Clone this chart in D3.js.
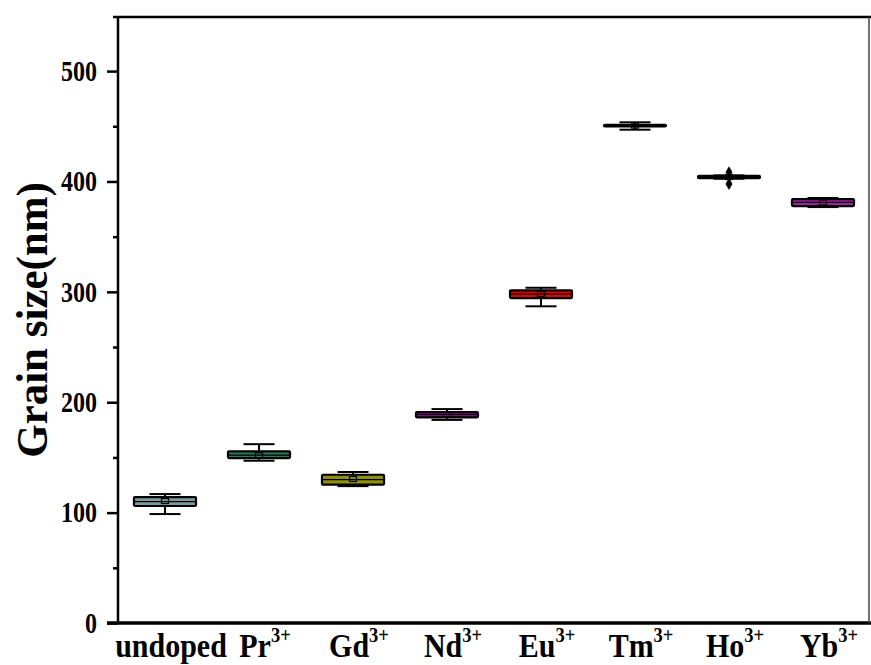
<!DOCTYPE html>
<html>
<head>
<meta charset="utf-8">
<script src="https://cdn.jsdelivr.net/npm/d3@7"></script>
<style>
  html, body { margin: 0; padding: 0; background: #fff; }
  svg { display: block; }
  text { font-family: "Liberation Serif", "Times New Roman", serif; font-weight: bold; }
</style>
</head>
<body>
<svg id="chart" width="871" height="665"></svg>
<script>
// ---- data ----
const categories = ["undoped", "Pr", "Gd", "Nd", "Eu", "Tm", "Ho", "Yb"];
const superscripts = ["", "3+", "3+", "3+", "3+", "3+", "3+", "3+"];
const minValues    = [98.7, 147.0, 124.0, 184.0, 286.9, 446.9, 402.5, 376.8];
const q1Values     = [106.0, 149.4, 125.3, 186.3, 294.4, 449.8, 403.0, 377.7];
const medianValues = [110.0, 152.0, 129.8, 188.9, 298.0, 450.6, 404.0, 381.0];
const q3Values     = [114.1, 155.5, 134.3, 191.0, 301.4, 451.4, 405.0, 384.0];
const maxValues    = [116.8, 162.0, 136.8, 193.8, 303.7, 453.6, 405.5, 385.0];
const meanValues   = [110.5, 152.0, 130.5, 189.0, 298.0, 450.6, 404.0, 381.0];
const outliers     = [[], [], [], [], [], [], [408.3, 397.8], []];
const yTicks       = [0, 100, 200, 300, 400, 500];
const yMinorTicks  = [50, 150, 250, 350, 450];
const yTitle       = "Grain size(nm)";

// ---- styles ----
const fillColors = ["#7b9c9c", "#2c7a5c", "#909010", "#7e1080", "#e00000", "#222222", "#222222", "#a020a0"];

const svg = d3.select("#chart");
const mLeft = 118, mRight = 870, mTop = 17, mBottom = 623;

const y = d3.scaleLinear().domain([0, 549]).range([mBottom, mTop]);
const x = d3.scaleBand().domain(categories).range([mLeft, mRight]).padding(0);
const boxW = x.bandwidth() * 0.66;
const capW = boxW * 0.5;

const data = categories.map((c, i) => ({
  c, i, min: minValues[i], q1: q1Values[i], med: medianValues[i], q3: q3Values[i],
  max: maxValues[i], mean: meanValues[i], out: outliers[i], fill: fillColors[i]
}));

// ---- y axis ----
const yAxis = d3.axisLeft(y).tickValues(yTicks).tickSize(11).tickPadding(10).tickFormat(d3.format("d"));
const gy = svg.append("g").attr("transform", `translate(${mLeft},0)`).call(yAxis);
gy.select(".domain").remove();
gy.selectAll(".tick line").attr("stroke", "#000").attr("stroke-width", 2.5);
gy.selectAll(".tick text").attr("font-size", 24).attr("fill", "#000")
  .attr("transform", "scale(1,1.2)")
  .style("font-family", "'Liberation Serif', serif").style("font-weight", "bold");

const yMinor = d3.axisLeft(y).tickValues(yMinorTicks).tickSize(5).tickFormat("");
const gym = svg.append("g").attr("transform", `translate(${mLeft},0)`).call(yMinor);
gym.select(".domain").remove();
gym.selectAll(".tick line").attr("stroke", "#000").attr("stroke-width", 2.5);

// ---- frame ----
svg.append("line").attr("x1", mLeft).attr("x2", mLeft).attr("y1", mTop - 1).attr("y2", mBottom)
  .attr("stroke", "#000").attr("stroke-width", 2.5);
svg.append("line").attr("x1", mLeft - 11).attr("x2", mRight + 1).attr("y1", mBottom).attr("y2", mBottom)
  .attr("stroke", "#000").attr("stroke-width", 3.5);
svg.append("line").attr("x1", mLeft - 5).attr("x2", mRight + 1).attr("y1", mTop).attr("y2", mTop)
  .attr("stroke", "#000").attr("stroke-width", 2.5);
svg.append("line").attr("x1", mRight - 1).attr("x2", mRight - 1).attr("y1", mTop).attr("y2", mBottom)
  .attr("stroke", "#444").attr("stroke-width", 1.5);

// ---- x axis labels ----
const xAxis = d3.axisBottom(x).tickSize(0).tickPadding(0).tickFormat("");
const gx = svg.append("g").attr("transform", `translate(0,${mBottom})`).call(xAxis);
gx.select(".domain").remove();
gx.selectAll(".tick").each(function(d, i) {
  const t = d3.select(this).append("text")
    .attr("x", 6).attr("y", 30.5).attr("text-anchor", "middle").attr("fill", "#000")
    .attr("font-size", 30).attr("transform", "scale(1,1.1)");
  t.append("tspan").text(d);
  if (superscripts[i]) {
    t.append("tspan").attr("font-size", 18.5).attr("dy", -13).text(superscripts[i]);
  }
});

// ---- y title ----
svg.append("text")
  .attr("transform", `translate(47,320) rotate(-90) scale(0.955,1)`)
  .attr("text-anchor", "middle").attr("font-size", 45).attr("fill", "#000")
  .text(yTitle);

// ---- boxes ----
const g = svg.append("g");
const boxes = g.selectAll("g.box").data(data).join("g").attr("class", "box")
  .attr("transform", d => `translate(${x(d.c) + x.bandwidth() / 2},0)`);

// whiskers
boxes.append("line").attr("x1", 0).attr("x2", 0)
  .attr("y1", d => y(d.max)).attr("y2", d => y(d.q3))
  .attr("stroke", "#000").attr("stroke-width", 2);
boxes.append("line").attr("x1", 0).attr("x2", 0)
  .attr("y1", d => y(d.q1)).attr("y2", d => y(d.min))
  .attr("stroke", "#000").attr("stroke-width", 2);
boxes.append("line").attr("x1", -capW / 2).attr("x2", capW / 2)
  .attr("y1", d => y(d.max)).attr("y2", d => y(d.max))
  .attr("stroke", "#000").attr("stroke-width", 2);
boxes.append("line").attr("x1", -capW / 2).attr("x2", capW / 2)
  .attr("y1", d => y(d.min)).attr("y2", d => y(d.min))
  .attr("stroke", "#000").attr("stroke-width", 2);

// box
boxes.append("rect")
  .attr("x", -boxW / 2).attr("width", boxW)
  .attr("y", d => y(d.q3)).attr("height", d => Math.max(0.5, y(d.q1) - y(d.q3)))
  .attr("fill", d => d.fill).attr("stroke", "#000").attr("stroke-width", 2.2)
  .attr("rx", 1);

// median
boxes.append("line").attr("x1", -boxW / 2).attr("x2", boxW / 2)
  .attr("y1", d => y(d.med)).attr("y2", d => y(d.med))
  .attr("stroke", "#000").attr("stroke-width", 1.2);

// mean square
boxes.append("rect")
  .attr("x", -3.5).attr("width", 7)
  .attr("y", d => y(d.mean) - 2.5).attr("height", 5)
  .attr("fill", "none").attr("stroke", "#000").attr("stroke-width", 1.2);

// outliers (diamonds)
const diamond = d3.symbol().type(d3.symbolDiamond).size(42);
boxes.each(function(d) {
  d3.select(this).selectAll("path.out").data(d.out).join("path").attr("class", "out")
    .attr("d", diamond)
    .attr("transform", v => `translate(0,${y(v)})`)
    .attr("fill", "#000");
});
</script>
</body>
</html>
